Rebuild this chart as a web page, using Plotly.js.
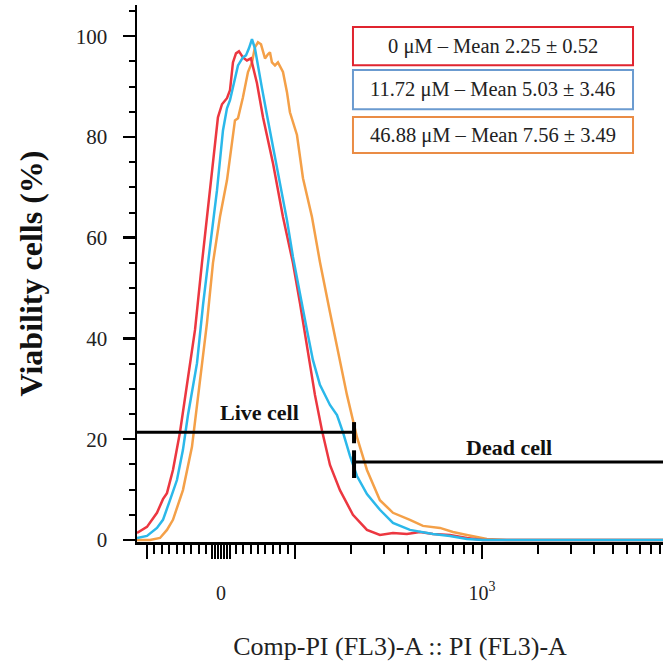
<!DOCTYPE html>
<html>
<head>
<meta charset="utf-8">
<script src="https://cdn.plot.ly/plotly-3.0.1.min.js"></script>
<style>
  html, body { margin: 0; padding: 0; background: #ffffff; }
  #chart { width: 663px; height: 662px; }
</style>
</head>
<body>
<div id="chart"></div>
<script>
// ---- Data: PI (FL3-A) fluorescence intensity vs. % of max (Viability cells) ----
const seriesNames = ["0 μM", "11.72 μM", "46.88 μM"];
const legendLabels = [
  "0 μM – Mean 2.25 ± 0.52",
  "11.72 μM – Mean 5.03 ± 3.46",
  "46.88 μM – Mean 7.56 ± 3.49"
];

const redX = [-113.5, -100, -86.5, -78.4, -73.0, -64.9, -55.4, -44.6, -35.1, -25.7, -18.9, -10.8, -4.1, 1.4, 8.1, 12.2, 16.2, 20.3, 24.3, 29.7, 35.1, 40.5, 44.6, 48.6, 56.8, 70.3, 83.8, 97.3, 106.4, 115.9, 127.9, 139.4, 153.9, 174.0, 204.2, 242.7, 284.7, 334.3, 397.1, 466, 547, 674, 831, 1012, 1596, 10000];
const redY = [1.4, 2.6, 5.4, 8.1, 9.3, 13.9, 21.4, 31.7, 41.7, 55.0, 64.1, 74.8, 83.9, 86.5, 87.7, 89.3, 94.8, 96.6, 97.0, 95.8, 95.2, 95.6, 93.3, 90.7, 83.9, 74.8, 64.1, 55.0, 47.0, 38.3, 28.8, 21.8, 14.9, 9.9, 5.0, 2.0, 1.0, 1.4, 1.2, 1.6, 1.2, 1.0, 0.4, 0, 0, 0];

const blueX = [-113.5, -100, -86.5, -78.4, -68.9, -59.5, -51.4, -44.6, -32.4, -24.3, -14.9, -5.4, 2.7, 8.1, 12.2, 18.9, 23.0, 29.7, 33.8, 37.8, 41.9, 45.9, 48.6, 55.4, 62.2, 70.3, 79.7, 89.2, 97.3, 106.4, 115.9, 124.8, 136.0, 153.9, 167.8, 180.5, 196.9, 214.6, 242.7, 284.7, 334.3, 412.1, 547, 674, 831, 1012, 1596, 10000];
const blueY = [0.4, 0.8, 2.4, 4.0, 7.9, 11.9, 17.9, 24.8, 35.1, 46.6, 58.1, 69.4, 81.3, 85.7, 87.3, 91.3, 94.2, 95.8, 96.2, 97.6, 99.4, 97.6, 95.2, 89.7, 84.3, 78.0, 71.4, 63.5, 56.2, 48.6, 41.7, 35.7, 30.8, 26.8, 24.8, 21.4, 16.7, 12.7, 9.1, 6.0, 3.4, 2.0, 1.2, 0.8, 0.2, 0, 0, 0];

const orangeX = [-113.5, -95.9, -82.4, -73.0, -64.9, -51.4, -39.2, -28.4, -18.9, -10.8, -1.4, 8.1, 14.9, 18.9, 23.0, 29.7, 36.5, 41.9, 45.9, 50.0, 54.1, 59.5, 63.5, 66.2, 68.9, 73.0, 77.0, 83.8, 89.2, 93.2, 102.5, 110.4, 123.3, 136.0, 153.9, 167.8, 189.7, 214.6, 242.7, 284.7, 334.3, 412.1, 483.6, 596.3, 699.8, 831, 1063, 1360, 10000];
const orangeY = [0, 0, 0.4, 2.0, 4.0, 9.9, 18.5, 31.7, 43.1, 55.0, 64.1, 71.4, 79.4, 83.3, 83.7, 87.9, 92.9, 94.8, 97.8, 98.8, 98.4, 95.6, 96.4, 96.8, 94.8, 94.2, 94.8, 92.9, 88.9, 84.9, 80.4, 71.8, 64.1, 55.2, 45.2, 38.3, 28.8, 20.4, 13.9, 7.9, 5.4, 4.0, 2.8, 2.4, 1.6, 1.0, 0.2, 0, 0];

// Axis extent (fluorescence units) and ticks
const xMin = -113.5, xMax = 9300;
const yMin = -0.4, yMax = 106.2;
const xMajorTicks = [-100, -12, -8, -4, 0, 4, 8, 12, 100, 1000];
const xMajorLabels = ["", "", "", "", "0", "", "", "", "", "10<sup>3</sup>"];
const xMinorTicks = [-90, -80, -70, -60, -50, -40, -30, -20, 20, 30, 40, 50, 60, 70, 80, 90,
  200, 300, 400, 500, 600, 700, 800, 900, 2000, 3000, 4000, 5000, 6000, 7000, 8000, 9000];
const yMajorTicks = [0, 20, 40, 60, 80, 100];

// Gates
const gateX = 207;
const liveY = 21.4, liveBar = [19.2, 23.4];
const deadY = 15.5, deadBar = [12.3, 17.8];
const liveLabel = {text: "Live cell", x: 52.7, y: 25.4};
const deadLabel = {text: "Dead cell", x: 1394, y: 18.3};

// ---- Biexponential-like display transform (linear near 0, log above 100) ----
function biex(v) {
  return v <= 100 ? v * 0.74 : 74 + 187 * Math.log10(v / 100);
}
const tx = arr => arr.map(biex);

const colors = ["#ec3740", "#2bb8ea", "#f4a048"];
const boxColors = ["#e0242f", "#6b9bd0", "#ea8c45"];
const serif = "Liberation Serif, Times New Roman, serif";

const traces = [
  {x: tx(orangeX), y: orangeY, name: seriesNames[2], mode: "lines", line: {color: colors[2], width: 2.5}},
  {x: tx(redX), y: redY, name: seriesNames[0], mode: "lines", line: {color: colors[0], width: 2.5}},
  {x: tx(blueX), y: blueY, name: seriesNames[1], mode: "lines", line: {color: colors[1], width: 2.5}}
];

const shapes = [
  {type: "line", xref: "x", yref: "y", x0: biex(xMin), x1: biex(gateX), y0: liveY, y1: liveY, line: {color: "#000", width: 3}},
  {type: "line", xref: "x", yref: "y", x0: biex(gateX), x1: biex(gateX), y0: liveBar[0], y1: liveBar[1], line: {color: "#000", width: 4}},
  {type: "line", xref: "x", yref: "y", x0: biex(gateX), x1: biex(xMax), y0: deadY, y1: deadY, line: {color: "#000", width: 3}},
  {type: "line", xref: "x", yref: "y", x0: biex(gateX), x1: biex(gateX), y0: deadBar[0], y1: deadBar[1], line: {color: "#000", width: 4}}
];

// Legend boxes (paper coordinates)
const boxX = [0.4106, 0.943];
const boxY = [[0.888, 0.959], [0.806, 0.879], [0.7244, 0.7914]];
const annotations = [
  {x: biex(liveLabel.x), y: liveLabel.y, xref: "x", yref: "y", xanchor: "center", yanchor: "middle", text: "<b>" + liveLabel.text + "</b>", showarrow: false, font: {family: serif, size: 22, color: "#111"}},
  {x: biex(deadLabel.x), y: deadLabel.y, xref: "x", yref: "y", xanchor: "center", yanchor: "middle", text: "<b>" + deadLabel.text + "</b>", showarrow: false, font: {family: serif, size: 22, color: "#111"}}
];
boxY.forEach((b, i) => {
  shapes.push({type: "rect", xref: "paper", yref: "paper", x0: boxX[0], x1: boxX[1], y0: b[0], y1: b[1],
    line: {color: boxColors[i], width: 2}, fillcolor: "rgba(255,255,255,0)"});
  annotations.push({xref: "paper", yref: "paper", x: (boxX[0] + boxX[1]) / 2, y: (b[0] + b[1]) / 2,
    xanchor: "center", yanchor: "middle",
    text: legendLabels[i], showarrow: false, font: {family: serif, size: 20.5, color: "#222"}});
});

const layout = {
  width: 663, height: 662,
  margin: {l: 137, r: 0, t: 5, b: 120},
  paper_bgcolor: "#ffffff", plot_bgcolor: "#ffffff",
  showlegend: false,
  font: {family: serif, color: "#222"},
  xaxis: {
    range: [biex(xMin), biex(xMax)],
    showgrid: false, zeroline: false,
    showline: true, linecolor: "#000", linewidth: 2.5,
    tickmode: "array", tickvals: tx(xMajorTicks), ticktext: xMajorLabels,
    ticks: "outside", ticklen: 14, tickwidth: 2.2, tickcolor: "#000",
    ticklabelstandoff: 17,
    tickfont: {family: serif, size: 20, color: "#222"},
    minor: {tickmode: "array", tickvals: tx(xMinorTicks), ticks: "outside", ticklen: 9, tickwidth: 2, tickcolor: "#000", showgrid: false},
    title: {text: "Comp-PI (FL3)-A :: PI (FL3)-A", font: {family: serif, size: 26, color: "#222"}, standoff: 35}
  },
  yaxis: {
    range: [yMin, yMax],
    showgrid: false, zeroline: false,
    showline: true, linecolor: "#000", linewidth: 2.5,
    tickmode: "array", tickvals: yMajorTicks,
    ticks: "outside", ticklen: 12, tickwidth: 2.5, tickcolor: "#000",
    ticklabelstandoff: 11,
    tickfont: {family: serif, size: 21, color: "#222"},
    minor: {dtick: 5, tick0: 0, ticks: "outside", ticklen: 6, tickwidth: 2, tickcolor: "#000", showgrid: false},
    title: {text: "<b>Viability cells (%)</b>", font: {family: serif, size: 32, color: "#111"}, standoff: 24}
  },
  shapes: shapes,
  annotations: annotations
};

Plotly.newPlot("chart", traces, layout, {displayModeBar: false, staticPlot: true});
</script>
</body>
</html>
